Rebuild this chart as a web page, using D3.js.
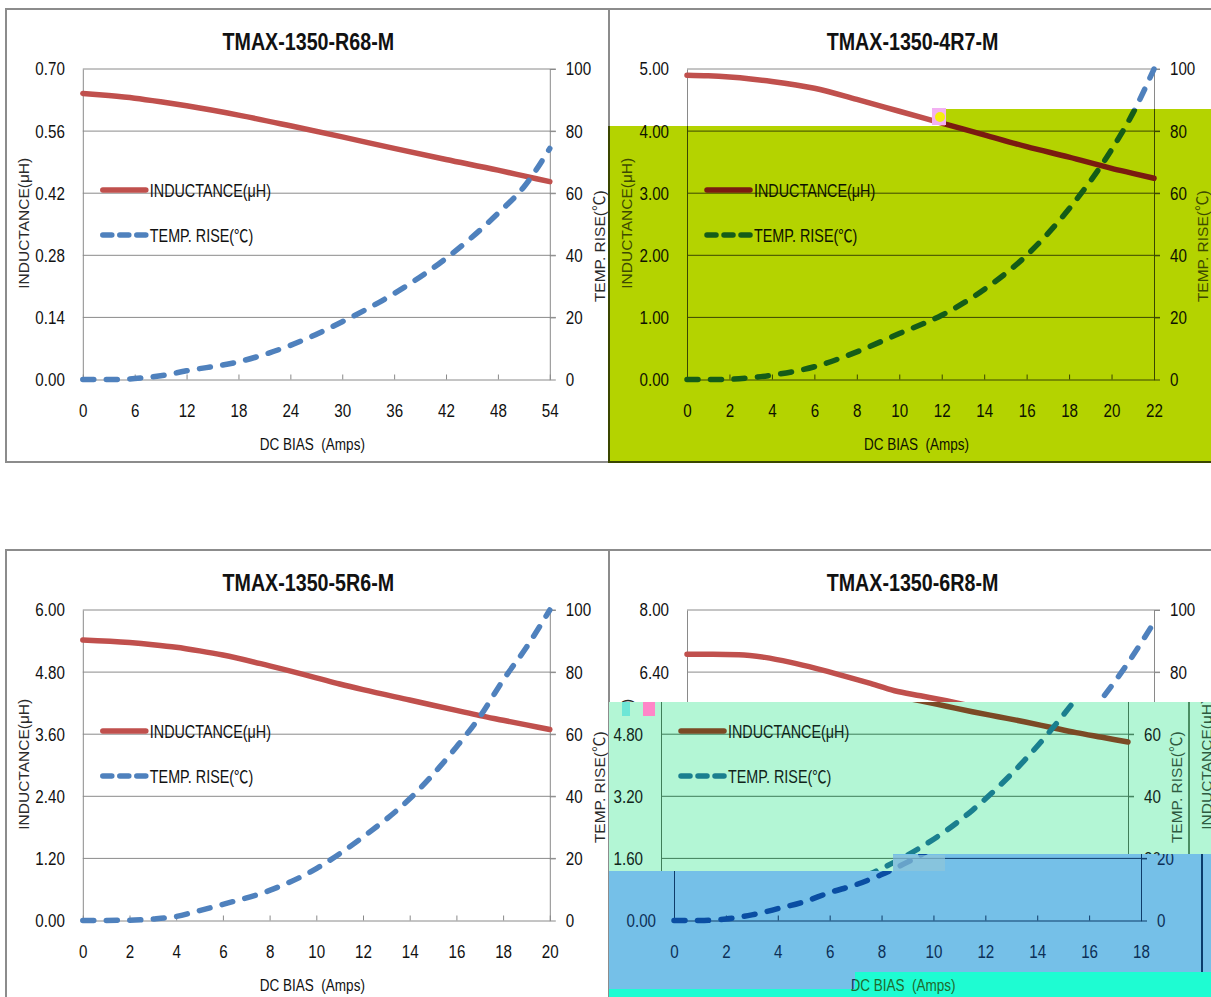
<!DOCTYPE html>
<html><head><meta charset="utf-8">
<script src="https://cdn.jsdelivr.net/npm/d3@7"></script>
<style>body{margin:0;background:#fff;overflow:hidden} svg{display:block}</style>
</head><body><script>
// ---------------- DATA ----------------
const tempTicks = [0, 20, 40, 60, 80, 100];

const r68Current    = [0, 3, 6, 9, 12, 18, 24, 30, 36, 42, 48, 51, 54];
const r68Inductance = [0.645, 0.640, 0.634, 0.626, 0.617, 0.596, 0.572, 0.547, 0.521, 0.496, 0.472, 0.459, 0.446];
const r68Temp       = [0, 0, 0.3, 1.2, 2.8, 5.7, 11, 18.6, 27.7, 39, 53.5, 62, 74.4];
const r68XTicks     = [0, 6, 12, 18, 24, 30, 36, 42, 48, 54];
const r68IndTicks   = [0, 0.14, 0.28, 0.42, 0.56, 0.70];

const r47Current    = [0, 1, 2, 3, 4, 6, 8, 10, 12, 14, 16, 18, 20, 21, 22];
const r47Inductance = [4.90, 4.89, 4.87, 4.84, 4.80, 4.69, 4.51, 4.32, 4.13, 3.94, 3.75, 3.58, 3.40, 3.32, 3.24];
const r47Temp       = [0, 0, 0.1, 0.6, 1.4, 4.1, 8.9, 14.8, 20.7, 29, 40, 55, 74, 85.7, 100];
const r47XTicks     = [0, 2, 4, 6, 8, 10, 12, 14, 16, 18, 20, 22];
const r47IndTicks   = [0, 1, 2, 3, 4, 5];

const r56Current    = [0, 2, 3, 4, 5, 6, 8, 10, 11, 12, 14, 16, 17, 18, 19, 20];
const r56Inductance = [5.42, 5.37, 5.33, 5.28, 5.21, 5.13, 4.92, 4.69, 4.57, 4.46, 4.26, 4.06, 3.96, 3.87, 3.78, 3.69];
const r56Temp       = [0, 0.1, 0.5, 1.3, 3.2, 5.2, 9.7, 16.7, 21.5, 26.9, 39.2, 55.9, 65.6, 77.4, 88, 100];
const r56XTicks     = [0, 2, 4, 6, 8, 10, 12, 14, 16, 18, 20];
const r56IndTicks   = [0, 1.2, 2.4, 3.6, 4.8, 6.0];

const r68bCurrent    = [0, 1, 2, 3, 4, 5, 6, 7, 8, 9, 10, 11, 12, 13, 14, 15, 16, 17, 18];
const r68bInductance = [6.86, 6.86, 6.85, 6.78, 6.65, 6.49, 6.31, 6.12, 5.92, 5.79, 5.66, 5.52, 5.38, 5.25, 5.12, 4.98, 4.84, 4.72, 4.60];
const r68bTemp       = [0, 0, 0.5, 1.8, 3.8, 6, 9, 11.5, 14.8, 18.8, 23.5, 29, 35.5, 43, 51.5, 61, 71.5, 83, 96];
const r68bXTicks     = [0, 2, 4, 6, 8, 10, 12, 14, 16, 18];
const r68bIndTicks   = [0, 1.6, 3.2, 4.8, 6.4, 8.0];

const titles = ['TMAX-1350-R68-M', 'TMAX-1350-4R7-M', 'TMAX-1350-5R6-M', 'TMAX-1350-6R8-M'];
const legendLabels = ['INDUCTANCE(μH)', 'TEMP. RISE(℃)'];
const xTitle = 'DC BIAS  (Amps)';
const yLeftTitle = 'INDUCTANCE(μH)';
const yRightTitle = 'TEMP. RISE(℃)';

// ---------------- CONFIG ----------------
const charts = [
  {title: titles[0], current: r68Current, inductance: r68Inductance, temp: r68Temp, xTicks: r68XTicks, indTicks: r68IndTicks, col: 0, row: 0},
  {title: titles[1], current: r47Current, inductance: r47Inductance, temp: r47Temp, xTicks: r47XTicks, indTicks: r47IndTicks, col: 1, row: 0},
  {title: titles[2], current: r56Current, inductance: r56Inductance, temp: r56Temp, xTicks: r56XTicks, indTicks: r56IndTicks, col: 0, row: 1},
  {title: titles[3], current: r68bCurrent, inductance: r68bInductance, temp: r68bTemp, xTicks: r68bXTicks, indTicks: r68bIndTicks, col: 1, row: 1}
];

const FONT = "'Liberation Sans',Arial,sans-serif";
const CJK = "'Noto Sans CJK SC','Noto Sans CJK JP',sans-serif";
const NARROW = 0.82;

const palettes = {
  normal: {text: '#111', title2: '#2a2a2a', grid: '#8a8a8a', ind: '#C0504D', temp: '#4F81BD', border: '#8c8c8c'},
  green:  {text: '#0e1200', title2: '#3d4a00', grid: '#3a4600', ind: '#7a1b10', temp: '#145c18', border: '#3a4600', bg: '#B4D300'},
  mint:   {text: '#10251a', title2: '#2e5a40', grid: '#3f7e59', ind: '#7b4a25', temp: '#1a7f8f', border: '#4b8e63', bg: '#B3F6D5'},
  blue:   {text: '#0c2f57', title2: '#0c2f57', grid: '#0f3c6a', ind: '#1c3f75', temp: '#0a4ea3', border: '#0b3c6c', bg: '#75C0E8'}
};

const svg = d3.select('body').append('svg').attr('width', 1211).attr('height', 997);
svg.append('rect').attr('width', 1211).attr('height', 997).attr('fill', '#fff');
const defs = svg.append('defs');

function addParts(t, str) {
  const parts = str.split('℃');
  parts.forEach((p, i) => {
    if (p) t.append('tspan').text(p);
    if (i < parts.length - 1) t.append('tspan').attr('font-family', CJK).text('℃');
  });
}
// narrow text (Arial-Narrow-like)
function ntext(g, x, y, str, size, fill, anchor, weight) {
  const t = g.append('text').attr('transform', `translate(${x},${y}) scale(${NARROW},1)`)
    .attr('text-anchor', anchor || 'start').attr('font-family', FONT).attr('font-size', size)
    .attr('font-weight', weight || 'normal').attr('fill', fill).style('white-space', 'pre');
  addParts(t, str);
  return t;
}

function drawChart(g, c, pal, dx) {
  const ox = (c.col ? 609 : 6) + dx, oy = c.row ? 550 : 9;
  const L = ox + (c.col ? 78 : 76.8), R = L + 467, T = oy + 60, B = oy + 370.5;
  const xMax = c.xTicks[c.xTicks.length - 1];
  const indMax = c.indTicks[c.indTicks.length - 1];
  const x = d3.scaleLinear().domain([0, xMax]).range([L, R]);
  const yL = d3.scaleLinear().domain([0, indMax]).range([B, T]);
  const yR = d3.scaleLinear().domain([0, 100]).range([B, T]);

  g.append('rect').attr('x', ox).attr('y', oy).attr('width', c.col ? 606 : 603).attr('height', 453)
    .attr('fill', 'none').attr('stroke', pal.border).attr('stroke-width', 2);

  ntext(g, (L + R) / 2 - 8, oy + 41, c.title, 24, pal.text, 'middle', 'bold');

  // gridlines
  g.append('g').selectAll('line').data(c.indTicks.slice(1)).join('line')
    .attr('x1', L).attr('x2', R + 6).attr('y1', d => yL(d)).attr('y2', d => yL(d))
    .attr('stroke', pal.grid).attr('stroke-width', 1);

  const axL = g.append('g').attr('transform', `translate(${L},0)`)
    .call(d3.axisLeft(yL).tickValues(c.indTicks).tickSize(0).tickPadding(18).tickFormat(d3.format('.2f')));
  const axR = g.append('g').attr('transform', `translate(${R},0)`)
    .call(d3.axisRight(yR).tickValues(tempTicks).tickSizeInner(6).tickSizeOuter(0).tickPadding(10).tickFormat(d3.format('d')));
  const axB = g.append('g').attr('transform', `translate(0,${B})`)
    .call(d3.axisBottom(x).tickValues(c.xTicks).tickSizeInner(-5).tickSizeOuter(0).tickPadding(24).tickFormat(d3.format('d')));
  [axL, axR, axB].forEach(a => {
    a.selectAll('path.domain').attr('stroke', pal.grid).attr('stroke-width', 1);
    a.selectAll('.tick line').attr('stroke', pal.grid);
    a.selectAll('text').attr('font-family', FONT).attr('font-size', 18.5).attr('fill', pal.text)
      .each(function () {
        const t = d3.select(this);
        const xx = +t.attr('x') || 0;
        t.attr('x', xx / NARROW).attr('transform', `scale(${NARROW},1)`);
      });
  });

  // curves
  const idx = d3.range(c.current.length);
  const lineInd = d3.line().x(i => x(c.current[i])).y(i => yL(c.inductance[i])).curve(d3.curveMonotoneX);
  const lineTemp = d3.line().x(i => x(c.current[i])).y(i => yR(c.temp[i])).curve(d3.curveMonotoneX);
  g.append('path').attr('d', lineInd(idx)).attr('fill', 'none').attr('stroke', pal.ind)
    .attr('stroke-width', 5.5).attr('stroke-linecap', 'round');
  g.append('path').attr('d', lineTemp(idx)).attr('fill', 'none').attr('stroke', pal.temp)
    .attr('stroke-width', 5.5).attr('stroke-linecap', 'round').attr('stroke-dasharray', '11,12.5');

  // legend
  const ly1 = T + 121, ly2 = T + 166;
  g.append('line').attr('x1', L + 20).attr('x2', L + 63).attr('y1', ly1).attr('y2', ly1)
    .attr('stroke', pal.ind).attr('stroke-width', 5.5).attr('stroke-linecap', 'round');
  g.append('line').attr('x1', L + 20).attr('x2', L + 64).attr('y1', ly2).attr('y2', ly2)
    .attr('stroke', pal.temp).attr('stroke-width', 5.5).attr('stroke-linecap', 'round').attr('stroke-dasharray', '9,8');
  ntext(g, L + 67, ly1 + 7, legendLabels[0], 17.5, pal.text);
  ntext(g, L + 67, ly2 + 7, legendLabels[1], 17.5, pal.text);

  // axis titles
  ntext(g, (L + R) / 2 - 4, oy + 441, xTitle, 16.5, pal.text, 'middle');
  const t1 = g.append('text').attr('transform', `translate(${ox + 23},${(T + B) / 2 - 1}) rotate(-90)`)
    .attr('text-anchor', 'middle').attr('font-family', FONT).attr('font-size', 15.5).attr('fill', pal.title2);
  addParts(t1, yLeftTitle);
  const t2 = g.append('text').attr('transform', `translate(${ox + 599},${(T + B) / 2 + 22}) rotate(-90)`)
    .attr('text-anchor', 'middle').attr('font-family', FONT).attr('font-size', 15.5).attr('fill', pal.title2);
  addParts(t2, yRightTitle);
}

function clipRegion(id, pts) {
  defs.append('clipPath').attr('id', id).append('polygon').attr('points', pts.map(p => p.join(',')).join(' '));
  return svg.append('g').attr('clip-path', `url(#${id})`);
}

// base charts
charts.forEach(c => drawChart(svg.append('g'), c, palettes.normal, 0));

// top-right yellow-green overlay
const gGreen = clipRegion('cg', [[608,126],[945,126],[945,109],[1211,109],[1211,463],[608,463]]);
gGreen.append('rect').attr('x', 608).attr('y', 100).attr('width', 610).attr('height', 370).attr('fill', palettes.green.bg);
drawChart(gGreen.append('g'), charts[1], palettes.green, 0);
svg.append('rect').attr('x', 932).attr('y', 108).attr('width', 14).attr('height', 17).attr('fill', '#f2b0f2');
svg.append('circle').attr('cx', 940).attr('cy', 117).attr('r', 5).attr('fill', '#f4ee10');

// bottom-right mint overlay (shifted, wrapped)
const WRAP = 606;
const gMint = clipRegion('cm', [[609,702],[1211,702],[1211,854],[893,854],[893,871],[609,871]]);
gMint.append('rect').attr('x', 609).attr('y', 700).attr('width', 610).attr('height', 180).attr('fill', palettes.mint.bg);
drawChart(gMint.append('g'), charts[3], palettes.mint, -26);
drawChart(gMint.append('g'), charts[3], palettes.mint, -26 + WRAP);

// bottom-right blue overlay (shifted, wrapped)
const gBlue = clipRegion('cb', [[609,871],[893,871],[893,854],[1211,854],[1211,972],[855,972],[855,989],[609,989]]);
gBlue.append('rect').attr('x', 609).attr('y', 850).attr('width', 610).attr('height', 147).attr('fill', palettes.blue.bg);
drawChart(gBlue.append('g'), charts[3], palettes.blue, -13);
drawChart(gBlue.append('g'), charts[3], palettes.blue, -13 + WRAP);
svg.append('rect').attr('x', 893).attr('y', 855).attr('width', 52).attr('height', 16).attr('fill', '#8fc6d8').attr('opacity', 0.7);

// cyan band
const gCyan = clipRegion('cc', [[855,972],[1211,972],[1211,997],[609,997],[609,989],[855,989]]);
gCyan.append('rect').attr('x', 609).attr('y', 970).attr('width', 610).attr('height', 30).attr('fill', '#1EFCD2');
ntext(gCyan, 903, 991, xTitle, 16.5, '#1f6a2c', 'middle');

// small artifact blocks
svg.append('rect').attr('x', 643).attr('y', 702).attr('width', 12).attr('height', 14).attr('fill', '#ff86c8');
svg.append('rect').attr('x', 622).attr('y', 702).attr('width', 8).attr('height', 14).attr('fill', '#6ee6d6');
</script></body></html>
